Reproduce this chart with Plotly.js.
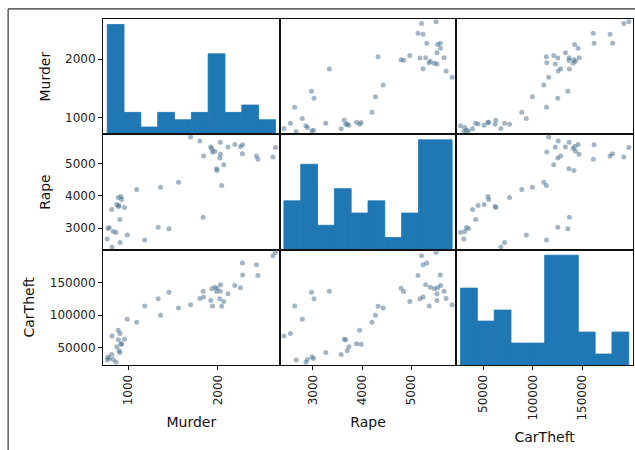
<!DOCTYPE html>
<html>
<head>
<meta charset="utf-8">
<script src="https://cdn.plot.ly/plotly-3.0.1.min.js"></script>
<style>html,body{margin:0;padding:0;background:#fff;}#chart{width:635px;height:450px;}</style>
</head>
<body>
<div id="chart"></div>
<script>
// ---- data ----
const columns = ['Murder', 'Rape', 'CarTheft'];

const murder = [767, 775, 790, 817, 820, 835, 873, 890, 892, 909, 908, 928, 960, 865, 898, 920,
  990, 1095, 1184, 1335, 1361, 1454, 1561, 1695, 1798, 1835, 1840, 1920, 1931, 1939, 1965, 1984,
  1990, 2020, 2028, 2026, 2042, 2065, 2112, 2187, 2250, 2272, 2275, 2428, 2445, 2612, 2640];

const rape = [2667, 2987, 3018, 3578, 2418, 2894, 3734, 3951, 3671, 2552, 3266, 3889, 3640, 2863, 3700, 3982,
  2791, 4200, 2636, 3028, 4272, 2978, 4427, 5824, 5702, 3339, 5236, 5516, 5466, 5360, 5382, 4844,
  4791, 5173, 5288, 5662, 4324, 4968, 5516, 5590, 5530, 5310, 5584, 5236, 5133, 5205, 5500];

const carTheft = [30360, 34980, 32980, 39140, 67800, 31200, 50850, 76590, 61950, 71500, 42230, 55480, 62720, 26970, 44690, 54710,
  93540, 88920, 114040, 125440, 99710, 135610, 111260, 116190, 125800, 137150, 128210, 122820, 140850, 114300, 143320, 136690,
  141770, 125440, 147010, 136900, 113800, 121280, 133140, 145940, 142390, 180920, 162120, 178300, 161350, 192170, 197270];

const tickValues = [
  [1000, 2000],
  [3000, 4000, 5000],
  [50000, 100000, 150000]
];
const tickLabels = [
  ['1000', '2000'],
  ['3000', '4000', '5000'],
  ['50000', '100000', '150000']
];

// ---- build ----
const series = [murder, rape, carTheft];
const nBins = 10;
const pad = 0.05;

function bounds(v) {
  const lo = Math.min(...v), hi = Math.max(...v);
  const ext = (hi - lo) * pad / 2;
  return {lo, hi, rng: [lo - ext, hi + ext]};
}
function histogram(v) {
  const lo = Math.min(...v), hi = Math.max(...v);
  const w = (hi - lo) / nBins;
  const counts = new Array(nBins).fill(0);
  v.forEach(x => {
    let i = Math.floor((x - lo) / w);
    if (i >= nBins) i = nBins - 1;
    if (i < 0) i = 0;
    counts[i]++;
  });
  const centers = counts.map((_, i) => lo + w * (i + 0.5));
  return {counts, centers, w};
}

const B = series.map(bounds);
const H = series.map(histogram);

const traces = [];
const layout = {
  width: 635, height: 450,
  margin: {l: 103, r: 2, t: 19, b: 85},
  paper_bgcolor: '#fff', plot_bgcolor: '#fff',
  showlegend: false,
  bargap: 0,
  font: {family: 'DejaVu Sans', size: 12, color: '#222'},
  shapes: [
    {type: 'line', xref: 'paper', yref: 'paper', x0: -0.179, x1: -0.179, y0: -0.3, y1: 1.029,
     line: {color: '#333', width: 1.2}},
    {type: 'line', xref: 'paper', yref: 'paper', x0: -0.179, x1: 1.01, y0: 1.029, y1: 1.029,
     line: {color: '#333', width: 1.2}}
  ]
};

const n = 3;
for (let r = 0; r < n; r++) {
  for (let c = 0; c < n; c++) {
    const k = r * n + c + 1;
    const xa = 'x' + (k === 1 ? '' : k);
    const ya = 'y' + (k === 1 ? '' : k);
    const xName = 'xaxis' + (k === 1 ? '' : k);
    const yName = 'yaxis' + (k === 1 ? '' : k);
    const xDom = [c / n, (c + 1) / n];
    const yDom = [1 - (r + 1) / n, 1 - r / n];

    const baseAx = {
      showline: true, mirror: true, linecolor: '#111', linewidth: 1,
      showgrid: false, zeroline: false, fixedrange: true,
      ticks: '', showticklabels: false
    };

    let yRange;
    if (r === c) {
      const h = H[r];
      traces.push({
        type: 'bar', x: h.centers, y: h.counts, width: h.w,
        xaxis: xa, yaxis: ya,
        marker: {color: '#1f77b4', line: {color: '#1f77b4', width: 0.8}},
        hoverinfo: 'skip'
      });
      yRange = [0, Math.max(...h.counts) * 1.05];
    } else {
      traces.push({
        type: 'scatter', mode: 'markers',
        x: series[c], y: series[r],
        xaxis: xa, yaxis: ya,
        marker: {color: 'rgba(70,110,140,0.5)', size: 5, line: {width: 0}},
        hoverinfo: 'skip'
      });
      yRange = B[r].rng;
    }

    const xAx = Object.assign({}, baseAx, {
      domain: xDom, range: B[c].rng, anchor: ya
    });
    if (r === n - 1) {
      Object.assign(xAx, {
        ticks: 'outside', ticklen: 4, tickwidth: 1, tickcolor: '#111',
        showticklabels: true, tickangle: -90,
        tickmode: 'array', tickvals: tickValues[c], ticktext: tickLabels[c],
        tickfont: {family: 'DejaVu Sans', size: 12, color: '#222'},
        title: {text: columns[c], font: {family: 'DejaVu Sans', size: 14, color: '#111'}, standoff: 12}
      });
    }

    const yAx = Object.assign({}, baseAx, {
      domain: yDom, range: yRange, anchor: xa
    });
    if (c === 0) {
      let tv = tickValues[r];
      if (r === c) {
        // map variable values into the histogram's count scale (as pandas does)
        const lo = B[r].rng[0], hi = B[r].rng[1];
        tv = tickValues[r].map(t => (t - lo) / (hi - lo) * (yRange[1] - yRange[0]) + yRange[0]);
      }
      Object.assign(yAx, {
        ticks: 'outside', ticklen: 4, tickwidth: 1, tickcolor: '#111',
        showticklabels: true,
        tickmode: 'array', tickvals: tv, ticktext: tickLabels[r],
        tickfont: {family: 'DejaVu Sans', size: 12, color: '#222'},
        title: {text: columns[r], font: {family: 'DejaVu Sans', size: 14, color: '#111'}, standoff: 11}
      });
    }
    layout[xName] = xAx;
    layout[yName] = yAx;
  }
}

Plotly.newPlot('chart', traces, layout, {staticPlot: true, displayModeBar: false});
</script>
</body>
</html>
